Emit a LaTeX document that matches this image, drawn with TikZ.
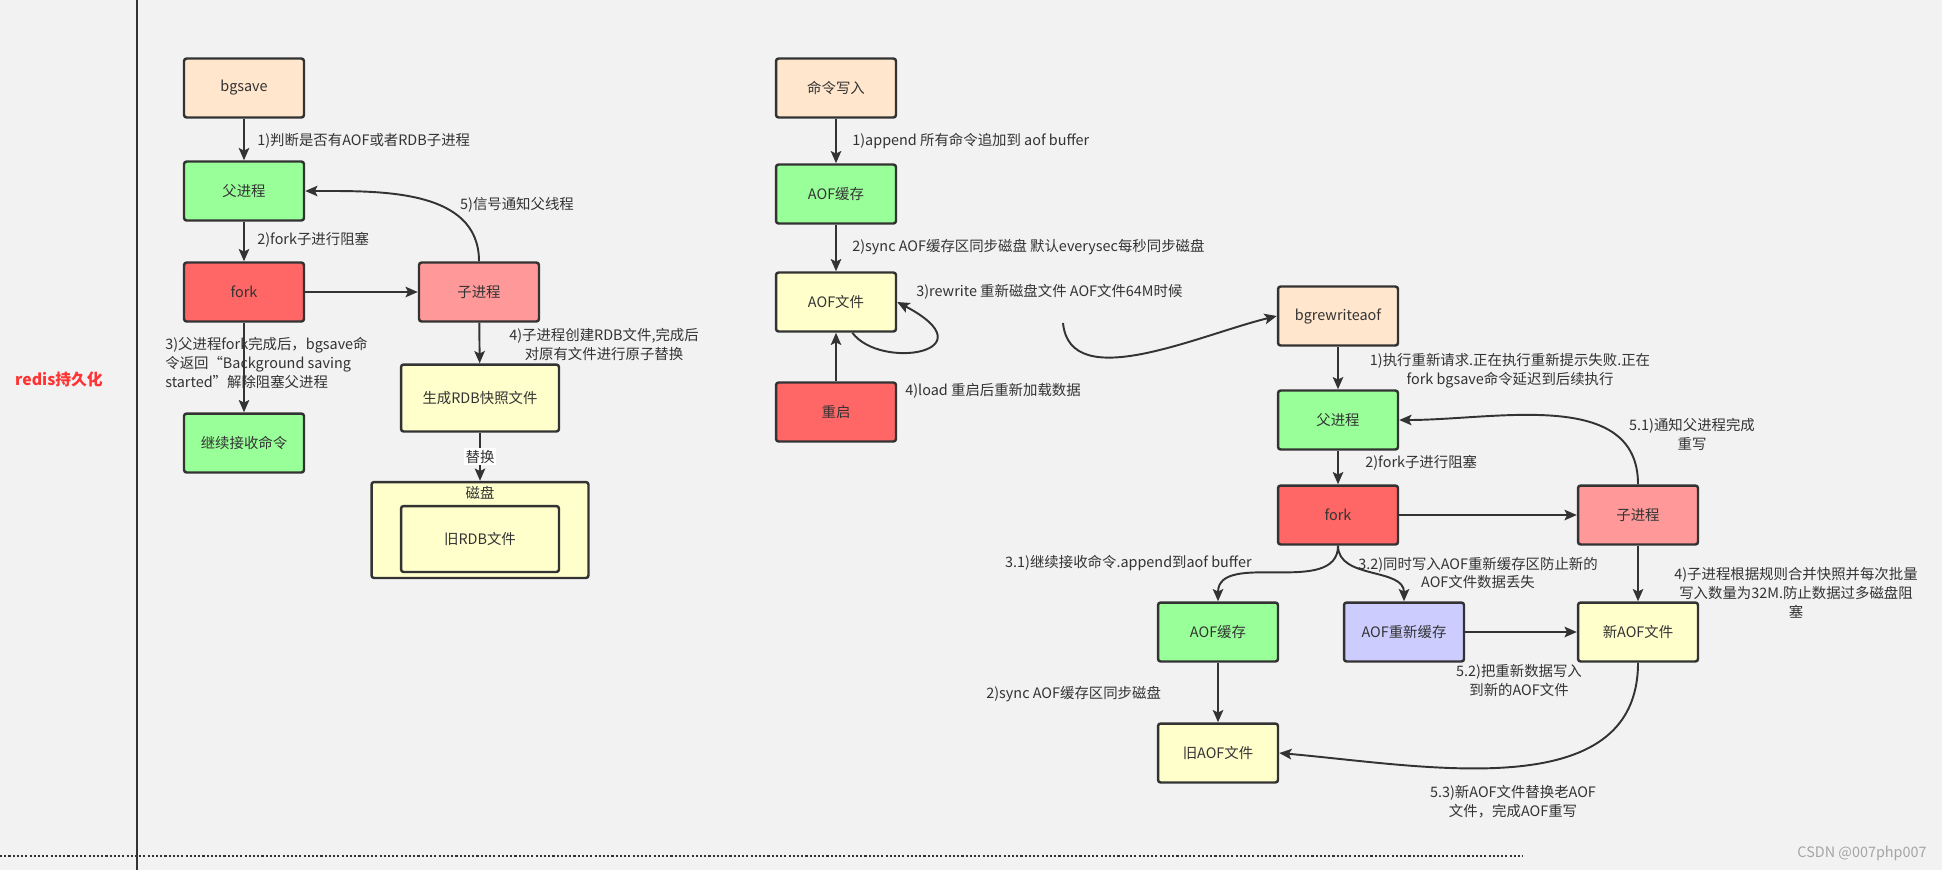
\documentclass[tikz,border=0pt]{standalone}
\usepackage{fontspec}
\newfontfamily\cjkfont{Noto Sans CJK SC}
\usepackage{xcolor}
\definecolor{rdbg}{RGB}{242,242,242}
\definecolor{rdline}{RGB}{51,51,51}
\definecolor{rdpeach}{RGB}{255,230,204}
\definecolor{rdgreen}{RGB}{153,255,153}
\definecolor{rdred}{RGB}{255,102,102}
\definecolor{rdpink}{RGB}{255,153,153}
\definecolor{rdyellow}{RGB}{255,255,204}
\definecolor{rdlilac}{RGB}{204,204,255}
\definecolor{rdtitle}{RGB}{255,51,51}
\definecolor{rdmark}{RGB}{165,165,165}
\usetikzlibrary{arrows.meta, positioning}

\begin{document}
\begin{tikzpicture}[x=0.02cm, y=0.02cm,
    font=\cjkfont\fontsize{8.2}{10.8}\selectfont, text=rdline,
    box/.style={draw=rdline, line width=1.4pt, rounded corners=1.5pt,
                minimum width=2.4cm, minimum height=1.18cm, align=center},
    arr/.style={-{Stealth[length=7pt,width=6pt,inset=1.5pt]}, draw=rdline, line width=1.1pt},
    lbl/.style={inner sep=0pt, align=center}]
      % Canvas, divider and bottom rule
      \useasboundingbox (0,0) rectangle (1942,-870);
      \fill[rdbg] (0,0) rectangle (1942,-870);
      \draw[rdline, line width=1.1pt] (137,0) -- (137,-870);
      \draw[rdline, line width=1.2pt, dash pattern=on 1.2pt off 1.2pt] (0,-856) -- (1523,-856);
      \node[lbl, text=rdtitle, font=\cjkfont\bfseries\fontsize{9}{11}\selectfont] (title) at (59,-379) {redis持久化};
      \node[lbl, text=rdmark] (mark) at (1862,-853) {CSDN @007php007};
      % RDB: bgsave flow
      \node[box, fill=rdpeach] (bgsave) at (244,-88) {bgsave};
      \node[box, fill=rdgreen] (parent1) at (244,-191) {父进程};
      \node[box, fill=rdred] (fork1) at (244,-292) {fork};
      \node[box, fill=rdpink] (child1) at (479,-292) {子进程};
      \node[box, fill=rdgreen] (accept1) at (244,-443) {继续接收命令};
      \node[box, fill=rdyellow, minimum width=3.16cm, minimum height=1.34cm] (snap) at (480,-398) {生成RDB快照文件};
      \node[box, fill=rdyellow, minimum width=4.34cm, minimum height=1.92cm] (disk) at (480,-530) {};
      \node[lbl] (disklbl) at (480,-493) {磁盘};
      \node[box, fill=rdyellow, minimum width=3.16cm, minimum height=1.32cm] (oldrdb) at (480,-539) {旧RDB文件};
      \draw[arr] (bgsave) -- (parent1);
      \draw[arr] (parent1) -- (fork1);
      \draw[arr] (fork1) -- (child1);
      \draw[arr] (fork1) -- (accept1);
      \draw[arr] (child1) -- (snap);
      \draw[arr] (snap) -- node[fill=white, inner sep=1pt] (swap) {替换} (disk);
      \draw[arr] (child1.north) to[out=90, in=0] (parent1.east);
      \node[lbl, anchor=west] (l1a) at (257,-141) {1)判断是否有AOF或者RDB子进程};
      \node[lbl, anchor=west] (l1b) at (257,-240) {2)fork子进行阻塞};
      \node[lbl, anchor=west, align=left] (l1c) at (165,-363) {3)父进程fork完成后，bgsave命\\令返回“Background saving\\started”解除阻塞父进程};
      \node[lbl] (l1d) at (604,-344) {4)子进程创建RDB文件,完成后\\对原有文件进行原子替换};
      \node[lbl] (l1e) at (517,-205) {5)信号通知父线程};
      % AOF: append flow
      \node[box, fill=rdpeach] (cmdin) at (836,-88) {命令写入};
      \node[box, fill=rdgreen] (aofbuf) at (836,-194) {AOF缓存};
      \node[box, fill=rdyellow] (aoffile) at (836,-302) {AOF文件};
      \node[box, fill=rdred] (restart) at (836,-412) {重启};
      \draw[arr] (cmdin) -- (aofbuf);
      \draw[arr] (aofbuf) -- (aoffile);
      \draw[arr] (restart) -- (aoffile);
      \draw[arr] (aoffile.-62) .. controls +(28,-38) and +(95,-50) .. (aoffile.east);
      \node[lbl, anchor=west] (l2a) at (852,-141) {1)append 所有命令追加到 aof buffer};
      \node[lbl, anchor=west] (l2b) at (852,-247) {2)sync AOF缓存区同步磁盘 默认everysec每秒同步磁盘};
      \node[lbl, anchor=west] (l2c) at (916,-292) {3)rewrite 重新磁盘文件 AOF文件64M时候};
      \node[lbl, anchor=west] (l2d) at (905,-391) {4)load 重启后重新加载数据};
      % AOF rewrite flow
      \node[box, fill=rdpeach] (bgrew) at (1338,-316) {bgrewriteaof};
      \node[box, fill=rdgreen] (parent2) at (1338,-420) {父进程};
      \node[box, fill=rdred] (fork2) at (1338,-515) {fork};
      \node[box, fill=rdpink] (child2) at (1638,-515) {子进程};
      \node[box, fill=rdgreen] (aofbuf2) at (1218,-632) {AOF缓存};
      \node[box, fill=rdlilac] (rwbuf) at (1404,-632) {AOF重新缓存};
      \node[box, fill=rdyellow] (newaof) at (1638,-632) {新AOF文件};
      \node[box, fill=rdyellow] (oldaof) at (1218,-753) {旧AOF文件};
      \coordinate (rwstart) at (1063,-323);
      \draw[arr] (rwstart) .. controls +(7,-72) and +(-78,-19) .. (bgrew.west);
      \draw[arr] (bgrew) -- (parent2);
      \draw[arr] (parent2) -- (fork2);
      \draw[arr] (fork2) -- (child2);
      \draw[arr] (fork2.south) to[out=-90, in=90] (aofbuf2.north);
      \draw[arr] (fork2.south) to[out=-90, in=90] (rwbuf.north);
      \draw[arr] (rwbuf) -- (newaof);
      \draw[arr] (child2) -- (newaof);
      \draw[arr] (aofbuf2) -- (oldaof);
      \draw[arr] (newaof.south) to[out=-90, in=-5] (oldaof.east);
      \draw[arr] (child2.north) to[out=90, in=0] (parent2.east);
      \node[lbl] (l3a) at (1510,-371) {1)执行重新请求.正在执行重新提示失败.正在\\fork bgsave命令延迟到后续执行};
      \node[lbl, anchor=west] (l3b) at (1365,-463) {2)fork子进行阻塞};
      \node[lbl] (l3c) at (1692,-434) {5.1)通知父进程完成\\重写};
      \node[lbl, anchor=east] (l3d) at (1252,-563) {3.1)继续接收命令.append到aof buffer};
      \node[lbl] (l3e) at (1478,-573) {3.2)同时写入AOF重新缓存区防止新的\\AOF文件数据丢失};
      \node[lbl] (l3f) at (1796,-593) {4)子进程根据规则合并快照并每次批量\\写入数量为32M.防止数据过多磁盘阻\\塞};
      \node[lbl] (l3g) at (1519,-680) {5.2)把重新数据写入\\到新的AOF文件};
      \node[lbl, anchor=west] (l3h) at (986,-694) {2)sync AOF缓存区同步磁盘};
      \node[lbl] (l3i) at (1513,-802) {5.3)新AOF文件替换老AOF\\文件，完成AOF重写};
\end{tikzpicture}
\end{document}
